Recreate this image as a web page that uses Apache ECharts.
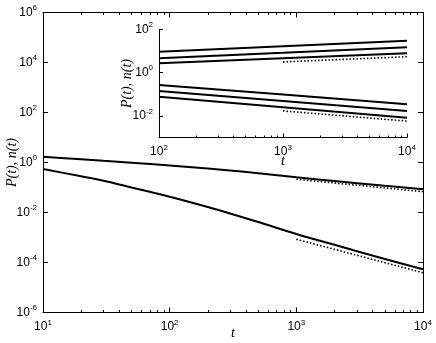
<!DOCTYPE html>
<html>
<head>
<meta charset="utf-8">
<script src="https://cdn.jsdelivr.net/npm/echarts@6/dist/echarts.min.js"></script>
<style>
  html, body { margin: 0; padding: 0; background: #fff; }
  #chart { width: 436px; height: 343px; }
</style>
</head>
<body>
<div id="chart"></div>
<script>
// main plot: P(t) and n(t) vs t
const tMain = [10, 20, 30, 50, 100, 200, 300, 500, 1000, 2000, 5000, 10000];
const pMain = [1.70, 1.35, 1.17, 0.98, 0.76, 0.575, 0.48, 0.37, 0.257, 0.182, 0.117, 0.085];
const nMain = [0.55, 0.28, 0.186, 0.10, 0.0427, 0.0166, 0.0091, 0.00417, 0.00138, 0.00051, 0.000138, 0.000054];
// dotted reference slopes
const tRef = [1000, 10000];
const pRef = [0.214, 0.068];
const nRef = [0.00085, 0.000039];

// inset
const tInset = [100, 1000, 10000];
const insetUp1 = [9.3, 16.6, 30.2];
const insetUp2 = [4.7, 8.3, 15.1];
const insetUp3 = [2.75, 4.7, 7.9];
const insetLow1 = [0.269, 0.098, 0.0347];
const insetLow2 = [0.141, 0.049, 0.017];
const insetLow3 = [0.0776, 0.0251, 0.0083];
const insetRefUp = [3.16, 5.5];
const insetRefLow = [0.017, 0.00575];

// tick values
const mainXTicks = [10, 100, 1000, 10000];
const mainYTicks = [1e-6, 1e-4, 1e-2, 1, 1e2, 1e4, 1e6];
const insetXTicks = [100, 1000, 10000];
const insetYTicks = [1e-2, 1, 1e2];

// minor ticks 2..9 in every decade
function minorTicks(fromExp, toExp) {
  const out = [];
  for (let e = fromExp; e < toExp; e++) {
    for (let k = 2; k <= 9; k++) out.push(k * Math.pow(10, e));
  }
  return out;
}

const zip = (xs, ys) => xs.map((x, i) => [x, ys[i]]);

const chart = echarts.init(document.getElementById("chart"));

const tickFont = "Liberation Sans";
const nameFont = "Liberation Serif";

const powLabel = {
  formatter: function (v) {
    const e = Math.round(Math.log10(v));
    return "{b|10}{s|" + e + "}";
  },
  rich: {
    b: { fontSize: 12, fontFamily: tickFont, color: "#000" },
    s: { fontSize: 8, fontFamily: tickFont, color: "#000", padding: [0, 0, 9, 0] },
  },
};

function logAxis(opt) {
  const base = {
    type: "log",
    logBase: 10,
    nameMoveOverlap: false,
    axisLine: { show: true, onZero: false, lineStyle: { color: "#000", width: 1 } },
    splitLine: { show: false },
    minorTick: { show: false },
    minorSplitLine: { show: false },
  };
  return Object.assign(base, opt);
}

function majorTicks(values, len) {
  return { show: true, inside: true, length: len, customValues: values, lineStyle: { color: "#000" } };
}

const nameStyle = { fontFamily: nameFont, fontStyle: "italic", fontSize: 14, color: "#000" };

const option = {
  animation: false,
  backgroundColor: "#fff",
  grid: [
    { left: 43, right: 13, top: 12.5, bottom: 30.5, outerBoundsMode: "none", containLabel: false },
    { left: 159, right: 29, top: 29.5, bottom: 205.5, outerBoundsMode: "none", containLabel: false },
  ],
  xAxis: [
    logAxis({
      gridIndex: 0, position: "bottom", min: 10, max: 10000,
      axisTick: majorTicks(mainXTicks, 5),
      axisLabel: Object.assign({ customValues: mainXTicks, margin: 6 }, powLabel),
      name: "t", nameLocation: "middle", nameGap: 14, nameTextStyle: nameStyle,
    }),
    logAxis({
      gridIndex: 0, position: "bottom", min: 10, max: 10000,
      axisLine: { show: false },
      axisTick: majorTicks(minorTicks(1, 4), 2.5),
      axisLabel: { show: false },
    }),
    logAxis({
      gridIndex: 0, position: "top", min: 10, max: 10000,
      axisTick: majorTicks(mainXTicks, 5),
      axisLabel: { show: false },
    }),
    logAxis({
      gridIndex: 0, position: "top", min: 10, max: 10000,
      axisLine: { show: false },
      axisTick: majorTicks(minorTicks(1, 4), 2.5),
      axisLabel: { show: false },
    }),
    logAxis({
      gridIndex: 1, position: "bottom", min: 100, max: 10000,
      axisTick: majorTicks(insetXTicks, 4),
      axisLabel: Object.assign({ customValues: insetXTicks, margin: 6 }, powLabel),
      name: "t", nameLocation: "middle", nameGap: 17, nameTextStyle: nameStyle,
    }),
    logAxis({
      gridIndex: 1, position: "bottom", min: 100, max: 10000,
      axisLine: { show: false },
      axisTick: majorTicks(minorTicks(2, 4), 2),
      axisLabel: { show: false },
    }),
  ],
  yAxis: [
    logAxis({
      gridIndex: 0, position: "left", min: 1e-6, max: 1e6,
      axisTick: majorTicks(mainYTicks, 5),
      axisLabel: Object.assign({ customValues: mainYTicks, margin: 6 }, powLabel),
      name: "P(t), n(t)", nameLocation: "middle", nameGap: 24, nameTextStyle: nameStyle,
    }),
    logAxis({
      gridIndex: 0, position: "right", min: 1e-6, max: 1e6,
      axisTick: majorTicks(mainYTicks, 5),
      axisLabel: { show: false },
    }),
    logAxis({
      gridIndex: 1, position: "left", min: 1e-3, max: 1e2,
      axisTick: majorTicks(insetYTicks, 4),
      axisLabel: Object.assign({ customValues: insetYTicks, margin: 6 }, powLabel),
      name: "P(t), n(t)", nameLocation: "middle", nameGap: 25, nameTextStyle: nameStyle,
    }),
  ],
  series: [],
};

function solid(data, xi, yi, smooth) {
  return {
    type: "line", data: data, xAxisIndex: xi, yAxisIndex: yi,
    showSymbol: false, symbol: "none", smooth: smooth || false,
    lineStyle: { color: "#000", width: 2 },
  };
}
function dotted(data, xi, yi) {
  return {
    type: "line", data: data, xAxisIndex: xi, yAxisIndex: yi,
    showSymbol: false, symbol: "none",
    lineStyle: { color: "#000", width: 1.6, type: [1.5, 2] },
  };
}

option.series.push(
  solid(zip(tMain, pMain), 0, 0, 0.3),
  solid(zip(tMain, nMain), 0, 0, 0.3),
  dotted(zip(tRef, pRef), 0, 0),
  dotted(zip(tRef, nRef), 0, 0),
  solid(zip(tInset, insetUp1), 4, 2),
  solid(zip(tInset, insetUp2), 4, 2),
  solid(zip(tInset, insetUp3), 4, 2),
  solid(zip(tInset, insetLow1), 4, 2),
  solid(zip(tInset, insetLow2), 4, 2),
  solid(zip(tInset, insetLow3), 4, 2),
  dotted(zip(tRef, insetRefUp), 4, 2),
  dotted(zip(tRef, insetRefLow), 4, 2)
);

chart.setOption(option);
</script>
</body>
</html>
